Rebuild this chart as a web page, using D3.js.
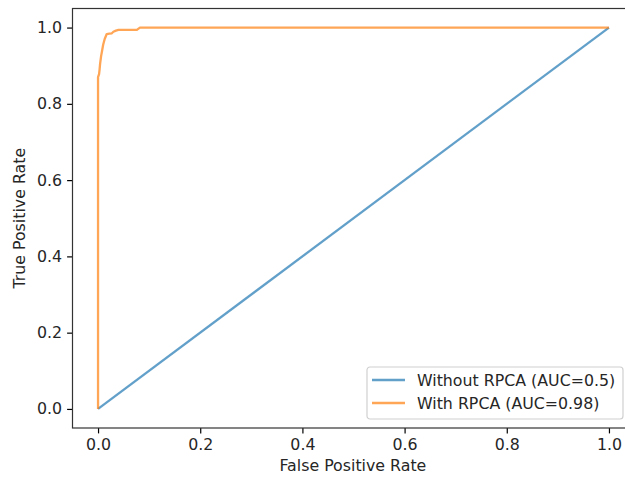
<!DOCTYPE html>
<html>
<head>
<meta charset="utf-8">
<script src="https://cdn.jsdelivr.net/npm/d3@7"></script>
<style>
  body { margin: 0; background: #fff; }
  svg { display: block; font-family: "DejaVu Sans", sans-serif; }
</style>
</head>
<body>
<div id="chart-area"></div>
<script>
// ROC curves
const baseFpr = [0, 1];
const baseTpr = [0, 1];

const rpcaFpr = [0, 0, 0.002, 0.003, 0.004, 0.006, 0.008, 0.010, 0.013, 0.017, 0.022, 0.027, 0.030, 0.035, 0.040, 0.060, 0.076, 0.080, 0.082, 1.0];
const rpcaTpr = [0, 0.870, 0.878, 0.890, 0.905, 0.925, 0.940, 0.955, 0.970, 0.983, 0.984, 0.985, 0.989, 0.992, 0.994, 0.994, 0.994, 0.998, 1.0, 1.0];

const seriesNames = ["Without RPCA (AUC=0.5)", "With RPCA (AUC=0.98)"];
const seriesColors = ["#1f77b4", "#ff7f0e"];
const tickValues = [0, 0.2, 0.4, 0.6, 0.8, 1.0];

(function () {
  const width = 625, height = 478;
  // axes box (right edge falls outside the cropped picture)
  const box = { left: 72.5, right: 634.5, top: 8.5, bottom: 428 };

  const svg = d3.select("#chart-area")
    .append("svg")
    .attr("width", width)
    .attr("height", height);

  const x = d3.scaleLinear().domain([-0.05, 1.05]).range([box.left, box.right]);
  const y = d3.scaleLinear().domain([-0.05, 1.05]).range([box.bottom, box.top]);

  const fontSize = 15.8;

  // curves
  const line = d3.line().x((d) => x(d[0])).y((d) => y(d[1]));
  const curves = [
    d3.zip(baseFpr, baseTpr),
    d3.zip(rpcaFpr, rpcaTpr)
  ];
  curves.forEach((pts, i) => {
    svg.append("path")
      .datum(pts)
      .attr("fill", "none")
      .attr("stroke", seriesColors[i])
      .attr("stroke-opacity", 0.7)
      .attr("stroke-width", 2.3)
      .attr("stroke-linejoin", "round")
      .attr("d", line);
  });

  // axes
  const xAxis = svg.append("g")
    .attr("transform", `translate(0,${box.bottom})`)
    .call(d3.axisBottom(x).tickValues(tickValues).tickFormat(d3.format(".1f")).tickSize(5.4).tickPadding(5));
  const yAxis = svg.append("g")
    .attr("transform", `translate(${box.left},0)`)
    .call(d3.axisLeft(y).tickValues(tickValues).tickFormat(d3.format(".1f")).tickSize(5.4).tickPadding(5));

  [xAxis, yAxis].forEach((g) => {
    g.select(".domain").remove();
    g.selectAll(".tick line").attr("stroke", "#000").attr("stroke-width", 1.2);
    g.selectAll(".tick text")
      .attr("fill", "#262626")
      .style("font-family", "DejaVu Sans")
      .style("font-size", fontSize + "px");
  });

  // spines
  svg.append("rect")
    .attr("x", box.left)
    .attr("y", box.top)
    .attr("width", box.right - box.left)
    .attr("height", box.bottom - box.top)
    .attr("fill", "none")
    .attr("stroke", "#333")
    .attr("stroke-width", 1.2);

  // axis labels
  svg.append("text")
    .attr("x", (box.left + box.right) / 2 - 0.6)
    .attr("y", 471)
    .attr("text-anchor", "middle")
    .attr("fill", "#262626")
    .style("font-size", fontSize + "px")
    .text("False Positive Rate");

  svg.append("text")
    .attr("transform", `translate(25,${(box.top + box.bottom) / 2}) rotate(-90)`)
    .attr("text-anchor", "middle")
    .attr("fill", "#262626")
    .style("font-size", fontSize + "px")
    .text("True Positive Rate");

  // legend
  const legend = svg.append("g").attr("transform", "translate(367,367)");
  legend.append("rect")
    .attr("width", 256)
    .attr("height", 52)
    .attr("rx", 3)
    .attr("fill", "#fff")
    .attr("fill-opacity", 0.8)
    .attr("stroke", "#d0d0d0")
    .attr("stroke-width", 1.2);

  seriesNames.forEach((name, i) => {
    const row = legend.append("g").attr("transform", `translate(0,${13 + i * 23})`);
    row.append("line")
      .attr("x1", 5).attr("x2", 38)
      .attr("stroke", seriesColors[i])
      .attr("stroke-opacity", 0.7)
      .attr("stroke-width", 2.3);
    row.append("text")
      .attr("x", 50)
      .attr("dy", "0.35em")
      .attr("fill", "#262626")
      .style("font-size", fontSize + "px")
      .text(name);
  });
})();
</script>
</body>
</html>
